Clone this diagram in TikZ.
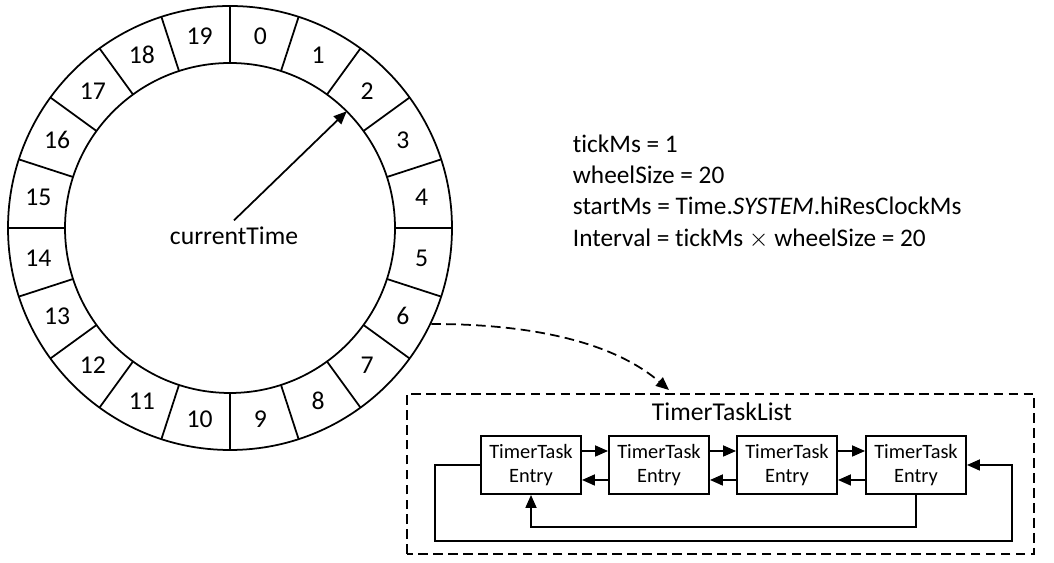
\documentclass[tikz,border=0pt]{standalone}
\usepackage{fontspec}
\setmainfont{Carlito}[Ligatures=NoCommon]
\usetikzlibrary{arrows.meta}

\begin{document}
\begin{tikzpicture}[
    x=0.02cm, y=0.02cm,
    line width=1pt,
    >={Triangle[length=0.26cm, width=0.22cm]},
    slotlabel/.style={font=\fontsize{14.6}{17}\selectfont},
    entry/.style={draw, line width=1.1pt, minimum width=2cm, minimum height=1.16cm, align=center, inner sep=1pt, font=\fontsize{11.6}{13.6}\selectfont},
    note/.style={align=left, inner sep=0pt, font=\fontsize{14.4}{17.8}\selectfont},
    listbox/.style={draw, dash pattern=on 5.5pt off 3pt}
]
\useasboundingbox (0,0) rectangle (1054,563);

% the wheel
\begin{scope}[shift={(230,335)}]
\draw (0,0) circle[radius=222];
\draw (0,0) circle[radius=165];
\foreach \k in {0,...,19} {
    \draw ({90-18*\k}:165) -- ({90-18*\k}:222);
    \node[slotlabel] (s\k) at ({81-18*\k}:194) {\k};
}
\node[slotlabel] (ct) at (4,-8) {currentTime};
\coordinate (hand) at (45:165);
\coordinate (slotsix) at (-25.5:223);
\end{scope}

\draw[->] (ct.north) -- (hand);

\node[note, anchor=north west] (params) at (572,429) {tickMs = 1\\
    wheelSize = 20\\
    startMs = Time.\textit{SYSTEM}.hiResClockMs\\
    Interval = tickMs $\times$ wheelSize = 20};

% the list
\draw[listbox] (407,9) rectangle (1034,169);
\node[slotlabel] (listname) at (722,151) {TimerTaskList};
\coordinate (tip) at (669,173);
\draw[->, dash pattern=on 5.5pt off 3pt] (slotsix) .. controls +(117,0) and +(-49,42) .. (tip);

\node[entry] (e1) at (531,98) {TimerTask\\Entry};
\node[entry] (e2) at (659,98) {TimerTask\\Entry};
\node[entry] (e3) at (787,98) {TimerTask\\Entry};
\node[entry] (e4) at (916,98) {TimerTask\\Entry};

\draw[->] ([yshift=0.28cm]e1.east) -- ([yshift=0.28cm]e2.west);
\draw[->] ([yshift=0.28cm]e2.east) -- ([yshift=0.28cm]e3.west);
\draw[->] ([yshift=0.28cm]e3.east) -- ([yshift=0.28cm]e4.west);
\draw[->] ([yshift=-0.3cm]e2.west) -- ([yshift=-0.3cm]e1.east);
\draw[->] ([yshift=-0.3cm]e3.west) -- ([yshift=-0.3cm]e2.east);
\draw[->] ([yshift=-0.3cm]e4.west) -- ([yshift=-0.3cm]e3.east);

\draw[->] (e4.south) -- ++(0,-32) -| (e1.south);
\draw[->] (e1.west) -- ++(-45,0) -- ++(0,-76) -| ([xshift=0.9cm]e4.east) -- (e4.east);
\end{tikzpicture}
\end{document}
